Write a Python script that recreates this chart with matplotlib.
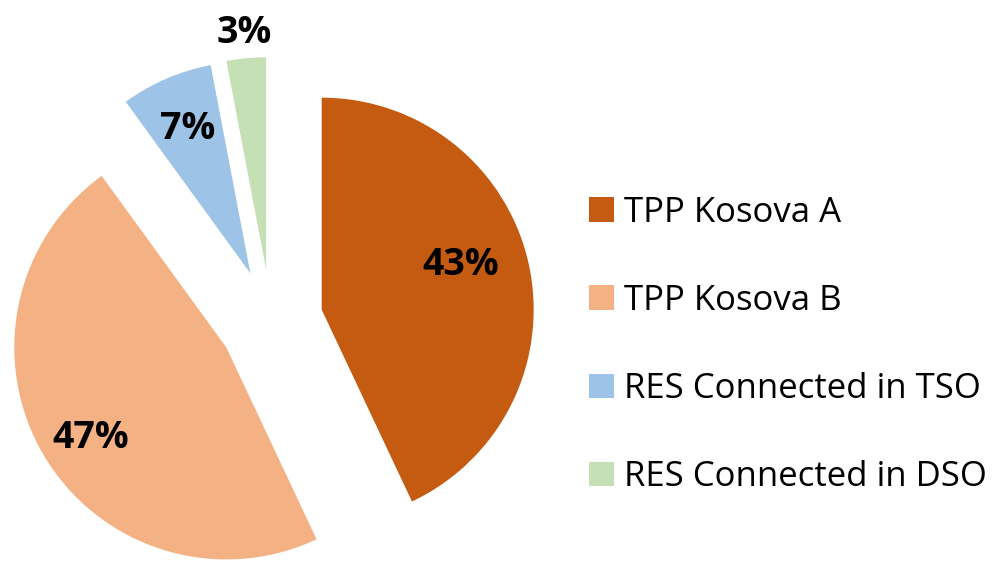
import numpy as np
import matplotlib.pyplot as plt
from matplotlib.patches import Patch

# --- data ---
labels = ["TPP Kosova A", "TPP Kosova B", "RES Connected in TSO", "RES Connected in DSO"]
shares = [43, 47, 7, 3]
colors = ["#C55A11", "#F4B183", "#9DC3E6", "#C5E0B4"]

# label distance (fraction of radius) and small angle nudges, Excel "best fit" look
label_dist = [0.69, 0.77, 0.74, 1.12]
label_nudge = [5, 3, 0, 0]

W, H = 1005, 563
fig = plt.figure(figsize=(W / 100, H / 100), dpi=100)
ax = fig.add_axes([0, 0, 1, 1])

cx, cy, r = 271, H - 321, 212
# pie explode is in data units, not a fraction of the radius
explode = [0.245 * r] * len(shares)

wedges, _ = ax.pie(
    shares,
    colors=colors,
    explode=explode,
    startangle=90,
    counterclock=False,
    center=(cx, cy),
    radius=r,
    wedgeprops=dict(linewidth=0),
    frame=True,
)
ax.set_xlim(0, W)
ax.set_ylim(0, H)
ax.set_aspect("equal")
ax.axis("off")

total = sum(shares)
for w, v, d, nudge in zip(wedges, shares, label_dist, label_nudge):
    mid = np.deg2rad((w.theta1 + w.theta2) / 2 + nudge)
    x0, y0 = w.center
    ax.text(x0 + d * r * np.cos(mid), y0 + d * r * np.sin(mid),
            f"{round(100 * v / total)}%", ha="center", va="center",
            fontsize=27, fontweight="bold", family="Open Sans", color="black")

handles = [Patch(facecolor=c, edgecolor="none") for c in colors]
leg = fig.legend(handles, labels, loc="center left", bbox_to_anchor=(589 / W, 0.5 - (345 - 281.5) / H),
                 frameon=False, prop={"family": "Open Sans", "size": 25},
                 handlelength=0.72, handleheight=0.72, handletextpad=0.28,
                 labelspacing=1.56, borderpad=0, borderaxespad=0)

fig.savefig("out.png", dpi=100)
